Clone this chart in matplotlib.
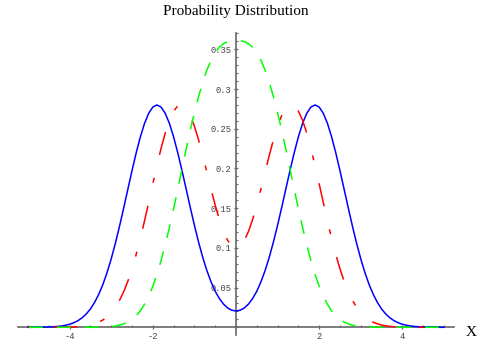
import matplotlib
matplotlib.use("Agg")
import matplotlib.pyplot as plt
import numpy as np
from matplotlib.ticker import FixedLocator, MultipleLocator

# sample positions: -5.0 .. 5.0 every 0.1
x = np.round(np.arange(-50, 51) / 10.0, 1)

# curve heights
blue = [0.0, 0.0, 0.0001, 0.0001, 0.0002, 0.0004, 0.0006, 0.0010, 0.0016, 0.0025,
        0.0038, 0.0057, 0.0083, 0.0119, 0.0167, 0.0230, 0.0312, 0.0414, 0.0538, 0.0687,
        0.0860, 0.1056, 0.1271, 0.1500, 0.1736, 0.1971, 0.2194, 0.2395, 0.2565, 0.2693,
        0.2773, 0.2800, 0.2773, 0.2694, 0.2567, 0.2399, 0.2199, 0.1978, 0.1746, 0.1512,
        0.1286, 0.1075, 0.0882, 0.0715, 0.0573, 0.0454, 0.0362, 0.0292, 0.0243, 0.0215,
        0.0205,
        0.0215, 0.0243, 0.0292, 0.0362, 0.0454, 0.0573, 0.0715, 0.0882, 0.1075, 0.1286,
        0.1512, 0.1746, 0.1978, 0.2199, 0.2399, 0.2567, 0.2694, 0.2773, 0.2800, 0.2773,
        0.2693, 0.2565, 0.2395, 0.2194, 0.1971, 0.1736, 0.1500, 0.1271, 0.1056, 0.0860,
        0.0687, 0.0538, 0.0414, 0.0312, 0.0230, 0.0167, 0.0119, 0.0083, 0.0057, 0.0038,
        0.0025, 0.0016, 0.0010, 0.0006, 0.0004, 0.0002, 0.0001, 0.0001, 0.0, 0.0]

red = [0.0, 0.0, 0.0, 0.0, 0.0, 0.0, 0.0, 0.0, 0.0001, 0.0002,
       0.0003, 0.0004, 0.0007, 0.0012, 0.0018, 0.0028, 0.0043, 0.0063, 0.0092, 0.0131,
       0.0184, 0.0252, 0.0339, 0.0447, 0.0579, 0.0735, 0.0915, 0.1116, 0.1336, 0.1568,
       0.1805, 0.2037, 0.2255, 0.2448, 0.2607, 0.2722, 0.2788, 0.2801, 0.2760, 0.2669,
       0.2533, 0.2362, 0.2165, 0.1954, 0.1741, 0.1539, 0.1358, 0.1207, 0.1094, 0.1023,
       0.1000,
       0.1023, 0.1094, 0.1207, 0.1358, 0.1539, 0.1741, 0.1954, 0.2165, 0.2362, 0.2533,
       0.2669, 0.2760, 0.2801, 0.2788, 0.2722, 0.2607, 0.2448, 0.2255, 0.2037, 0.1805,
       0.1568, 0.1336, 0.1116, 0.0915, 0.0735, 0.0579, 0.0447, 0.0339, 0.0252, 0.0184,
       0.0131, 0.0092, 0.0063, 0.0043, 0.0028, 0.0018, 0.0012, 0.0007, 0.0004, 0.0003,
       0.0002, 0.0001, 0.0, 0.0, 0.0, 0.0, 0.0, 0.0, 0.0, 0.0]

green = [0.0, 0.0, 0.0, 0.0, 0.0, 0.0, 0.0, 0.0, 0.0, 0.0,
         0.0, 0.0, 0.0, 0.0, 0.0, 0.0, 0.0, 0.0001, 0.0003, 0.0005,
         0.0010, 0.0016, 0.0027, 0.0043, 0.0066, 0.0100, 0.0145, 0.0207, 0.0288, 0.0390,
         0.0516, 0.0666, 0.0842, 0.1040, 0.1259, 0.1494, 0.1735, 0.1990, 0.2240, 0.2479,
         0.2700, 0.2904, 0.3085, 0.3239, 0.3363, 0.3458, 0.3527, 0.3572, 0.3598, 0.3608,
         0.3610,
         0.3608, 0.3598, 0.3572, 0.3527, 0.3458, 0.3363, 0.3239, 0.3085, 0.2904, 0.2700,
         0.2479, 0.2240, 0.1990, 0.1735, 0.1494, 0.1259, 0.1040, 0.0842, 0.0666, 0.0516,
         0.0390, 0.0288, 0.0207, 0.0145, 0.0100, 0.0066, 0.0043, 0.0027, 0.0016, 0.0010,
         0.0005, 0.0003, 0.0001, 0.0, 0.0, 0.0, 0.0, 0.0, 0.0, 0.0,
         0.0, 0.0, 0.0, 0.0, 0.0, 0.0, 0.0, 0.0, 0.0, 0.0]

xticks = [-4, -2, 2, 4]
xticklabels = ["-4", "-2", "2", "4"]
yticks = [0.05, 0.1, 0.15, 0.2, 0.25, 0.3, 0.35]
yticklabels = ["0.05", "0.1", "0.15", "0.2", "0.25", "0.3", "0.35"]

# dash patterns in points (not scaled by line width)
plt.rcParams['lines.scale_dashes'] = False
red_dash = (17, 17, 3.6, 17)
green_dash = (10, 10)

fig = plt.figure(figsize=(4.82, 3.50), dpi=100)
ax = fig.add_axes([0.0373, 0.0429, 0.9046, 0.8637])
ax.set_xlim(-5.24, 5.24)
ax.set_ylim(-0.0097, 0.371)


def dash_offset(ys, x_anchor, target, period):
    # shift the dash pattern so that a chosen spot of it lands at x_anchor
    pts = ax.transData.transform(np.column_stack([x, ys])) * 72.0 / fig.dpi
    seg = np.hypot(*np.diff(pts, axis=0).T)
    s = np.concatenate([[0], np.cumsum(seg)])
    return (target - np.interp(x_anchor, x, s)) % period


red_off = dash_offset(red, -0.20, 17 + 17 + 1.8, sum(red_dash))
green_off = dash_offset(green, -0.05, 15, sum(green_dash))

ax.plot(x, blue, color="#0000ff", lw=1.1)
ax.plot(x, red, color="#ff0000", lw=1.1, linestyle=(red_off, red_dash))
ax.plot(x, green, color="#00ff00", lw=1.1, linestyle=(green_off, green_dash))

axis_col = "#666666"
for s in ["top", "right"]:
    ax.spines[s].set_visible(False)
ax.spines["left"].set_position("zero")
ax.spines["bottom"].set_position("zero")
for s in ["left", "bottom"]:
    ax.spines[s].set_color(axis_col)
    ax.spines[s].set_linewidth(1.2)
    ax.spines[s].set_zorder(0)

ax.xaxis.set_major_locator(FixedLocator(xticks))
ax.set_xticklabels(xticklabels)
ax.xaxis.set_minor_locator(MultipleLocator(0.5))
ax.yaxis.set_major_locator(FixedLocator(yticks))
ax.set_yticklabels(yticklabels)
ax.yaxis.set_minor_locator(MultipleLocator(0.01))

for lab in ax.get_xticklabels() + ax.get_yticklabels():
    lab.set_fontfamily("Liberation Mono")
    lab.set_fontsize(6.3)
    lab.set_color("#444444")

ax.tick_params(which="major", direction="inout", length=3.4, width=0.9,
               color=axis_col, pad=1.5)
ax.tick_params(which="minor", direction="in", length=1.6, width=0.8,
               color=axis_col)

fig.text(236 / 482, 1 - 12 / 350, "Probability Distribution",
         family="Liberation Serif", fontsize=11, ha="center", va="center")
fig.text(471 / 482, 1 - 332 / 350, "X",
         family="Liberation Serif", fontsize=11, ha="center", va="center")

fig.savefig("out.png", dpi=100)
